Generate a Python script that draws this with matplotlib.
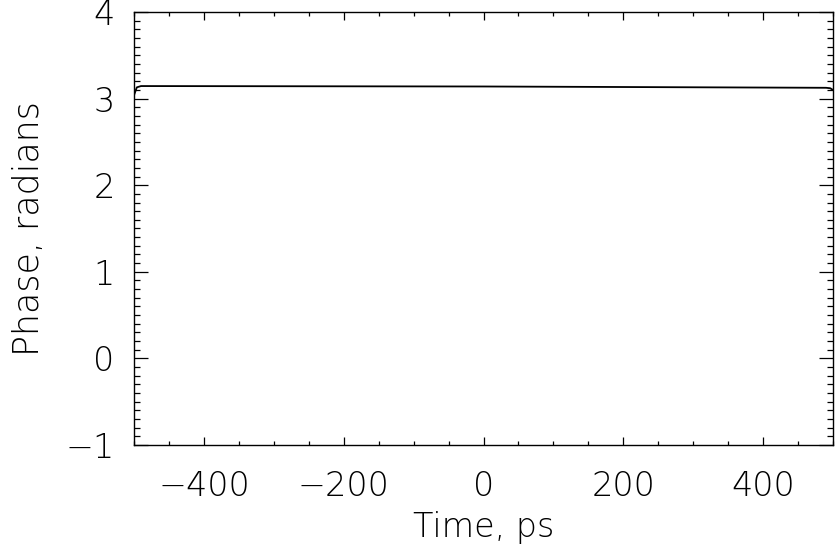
import numpy as np
import matplotlib.pyplot as plt
from matplotlib.ticker import MultipleLocator

# phase trace (nearly flat at ~pi)
time_ps = [-500, -496, -490, 0, 490, 496, 500]
phase_rad = [3.04, 3.13, 3.145, 3.14, 3.125, 3.12, 3.10]

xlim = (-500, 500)
ylim = (-1, 4)

plt.rcParams['font.family'] = ['DejaVu Sans']
plt.rcParams['font.weight'] = 'light'
plt.rcParams['axes.labelweight'] = 'light'

fig = plt.figure(figsize=(8.35, 5.54), dpi=100)
ax = fig.add_axes([0.1605, 0.1968, 0.8371, 0.7815])

ax.plot(time_ps, phase_rad, color='black', linewidth=1.3)

ax.set_xlim(*xlim)
ax.set_ylim(*ylim)

ax.xaxis.set_major_locator(MultipleLocator(200))
ax.xaxis.set_minor_locator(MultipleLocator(50))
ax.yaxis.set_major_locator(MultipleLocator(1))
ax.yaxis.set_minor_locator(MultipleLocator(0.1))

ax.tick_params(axis='both', which='both', direction='in', top=True, right=True,
               colors='black', width=0.9)
ax.tick_params(axis='x', which='major', length=6, labelsize=24, pad=18)
ax.tick_params(axis='x', which='minor', length=3)
ax.tick_params(axis='y', which='major', length=10, labelsize=24, pad=14)
ax.tick_params(axis='y', which='minor', length=4)

for s in ax.spines.values():
    s.set_linewidth(1.0)

def fmt(v):
    return f'\u2212{abs(int(v))}' if v < 0 else f'{int(v)}'

xt = [-400, -200, 0, 200, 400]
ax.set_xticks(xt)
ax.set_xticklabels([fmt(v) for v in xt])
yt = [-1, 0, 1, 2, 3, 4]
ax.set_yticks(yt)
ax.set_yticklabels([fmt(v) for v in yt])

ax.set_xlabel('Time, ps', fontsize=24, labelpad=6)
ax.set_ylabel('Phase, radians', fontsize=25, labelpad=14)

fig.savefig('out.png', dpi=100)
